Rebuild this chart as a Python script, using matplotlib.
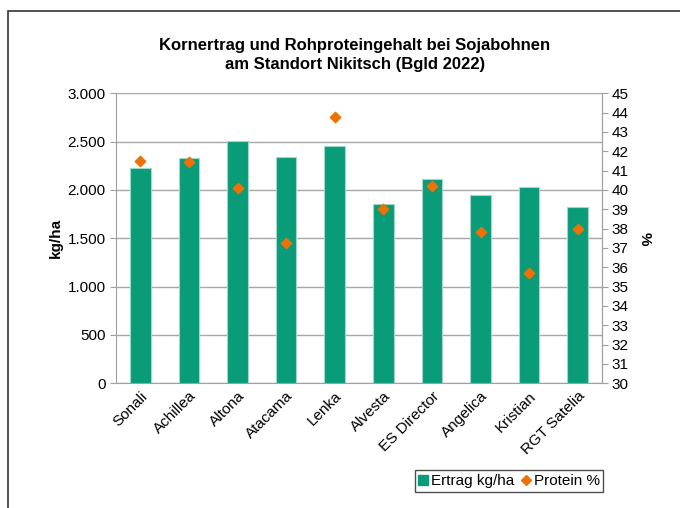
import matplotlib
matplotlib.use("Agg")
import matplotlib.pyplot as plt
from matplotlib.lines import Line2D
from matplotlib.patches import Rectangle
from matplotlib.ticker import FuncFormatter, MultipleLocator
import numpy as np

plt.rcParams['font.family'] = ['Liberation Sans', 'DejaVu Sans']

sorten = ["Sonali", "Achillea", "Altona", "Atacama", "Lenka", "Alvesta",
          "ES Director", "Angelica", "Kristian", "RGT Satelia"]
ertrag = [2224, 2328, 2503, 2345, 2452, 1858, 2117, 1945, 2031, 1821]
protein = [41.5, 41.45, 40.1, 37.25, 43.75, 39.0, 40.2, 37.85, 35.7, 38.0]

W, H = 680, 508
fig = plt.figure(figsize=(W / 100, H / 100), dpi=100)

# outer chart border (extends past right/bottom edges)
fig.patches.append(Rectangle((8 / W, -0.1), 1.2, 1 - 11 / H + 0.1,
                             transform=fig.transFigure, fill=False,
                             edgecolor='#333333', linewidth=1.2))

ax = fig.add_axes([116 / W, 1 - 383.3 / H, (602 - 116) / W, 290 / H])
x = np.arange(len(sorten))
ax.bar(x, ertrag, width=0.42, color='#0a9b78', edgecolor='#9fd9c6',
       linewidth=0.8, zorder=3)
ax.set_xlim(-0.5, len(sorten) - 0.5)
ax.set_ylim(0, 3000)
ax.yaxis.set_major_locator(MultipleLocator(500))
ax.yaxis.set_major_formatter(FuncFormatter(lambda v, p: f"{int(v):,}".replace(",", ".")))
ax.grid(axis='y', color='#a8a8a8', linewidth=1.0, zorder=0)
ax.spines['top'].set_visible(False)
for s in ['left', 'bottom', 'right']:
    ax.spines[s].set_color('#a0a0a0')
ax.tick_params(axis='y', colors='#a0a0a0', labelcolor='black', labelsize=11,
               length=4, direction='out')
ax.tick_params(axis='x', length=0, labelsize=11, pad=4)
ax.set_xticks(x)
ax.set_xticklabels(sorten, rotation=45, ha='right', rotation_mode='anchor')
ax.set_ylabel("kg/ha", fontsize=11, fontweight='bold')
ax.yaxis.set_label_coords((63 - 116) / 486, 0.5)

ax2 = ax.twinx()
ax2.scatter(x, protein, marker='D', s=28, color='#ee7203', zorder=5)
ax2.set_ylim(30, 45)
ax2.yaxis.set_major_locator(MultipleLocator(1))
for s in ['top', 'left', 'bottom']:
    ax2.spines[s].set_visible(False)
ax2.spines['right'].set_color('#a0a0a0')
ax2.tick_params(axis='y', colors='#a0a0a0', labelcolor='black', labelsize=11,
                length=4, pad=3)
ax2.set_ylabel("%", fontsize=11, fontweight='bold', rotation=270, va='center')
ax2.yaxis.set_label_coords((645 - 116) / 486, 0.5)

fig.text(355 / W, 1 - 55 / H,
         "Kornertrag und Rohproteingehalt bei Sojabohnen\nam Standort Nikitsch (Bgld 2022)",
         ha='center', va='center', fontsize=12, fontweight='bold', linespacing=1.4)

handles = [Line2D([], [], marker='s', linestyle='', color='#0a9b78', markersize=7),
           Line2D([], [], marker='D', linestyle='', color='#ee7203', markersize=5.5)]
leg = fig.legend(handles, ["Ertrag kg/ha", "Protein %"], loc='center',
                 bbox_to_anchor=(509 / W, 1 - 481 / H), ncol=2, frameon=True,
                 fancybox=False, edgecolor='#222222', fontsize=11,
                 handlelength=0.6, handletextpad=0.2, columnspacing=0.5,
                 borderpad=0.25, borderaxespad=0)
leg.get_frame().set_linewidth(1.0)

fig.savefig("out.png", dpi=100)
